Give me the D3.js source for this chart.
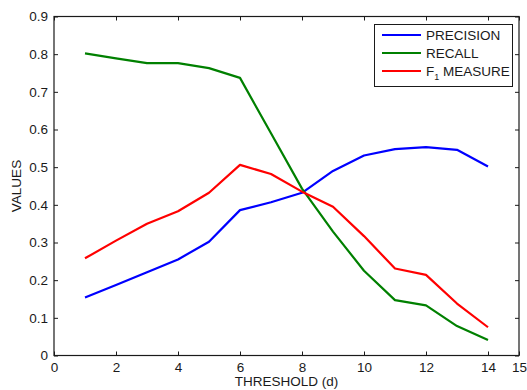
<!DOCTYPE html>
<html><head><meta charset="utf-8">
<script src="https://cdn.jsdelivr.net/npm/d3@7"></script>
<style>body{margin:0;background:#fff}svg{display:block}text{font-family:"Liberation Sans",Arial,sans-serif;fill:#1a1a1a}</style>
</head><body>
<script>
const thresholds = [1,2,3,4,5,6,7,8,9,10,11,12,13,14];
const precision = [0.154,0.187,0.221,0.255,0.302,0.386,0.407,0.432,0.490,0.531,0.548,0.553,0.546,0.502];
const recall    = [0.802,0.789,0.776,0.776,0.763,0.737,0.590,0.443,0.329,0.225,0.147,0.133,0.078,0.041];
const fmeasure  = [0.258,0.305,0.350,0.383,0.432,0.506,0.482,0.435,0.395,0.317,0.231,0.214,0.138,0.075];
const seriesNames = ["PRECISION","RECALL","F1 MEASURE"];
const seriesColors = ["#0000ff","#008000","#ff0000"];
const xTicks = [0,2,4,6,8,10,12,14,15];
const yTicks = [0,0.1,0.2,0.3,0.4,0.5,0.6,0.7,0.8,0.9];

const W=527,H=390;
const m={l:54,r:8,t:16.5,b:34.5};
const svg=d3.select("body").append("svg").attr("width",W).attr("height",H);
const x=d3.scaleLinear().domain([0,15]).range([m.l,W-m.r]);
const y=d3.scaleLinear().domain([0,0.9]).range([H-m.b,m.t]);
const fs=13.5;

svg.append("rect").attr("x",x(0)).attr("y",y(0.9)).attr("width",x(15)-x(0)).attr("height",y(0)-y(0.9))
  .attr("fill","none").attr("stroke","#1a1a1a").attr("stroke-width",1.2);

const tl=4;
const xAx=svg.append("g").attr("transform",`translate(0,${y(0)})`)
  .call(d3.axisBottom(x).tickValues(xTicks).tickSizeInner(-tl).tickSizeOuter(0).tickPadding(7).tickFormat(d3.format("d")));
const xAxT=svg.append("g").attr("transform",`translate(0,${y(0.9)})`)
  .call(d3.axisTop(x).tickValues(xTicks).tickSizeInner(-tl).tickSizeOuter(0).tickFormat(""));
const yAx=svg.append("g").attr("transform",`translate(${x(0)},0)`)
  .call(d3.axisLeft(y).tickValues(yTicks).tickSizeInner(-tl).tickSizeOuter(0).tickPadding(6).tickFormat(d=>d===0?"0":d3.format(".1f")(d)));
const yAxR=svg.append("g").attr("transform",`translate(${x(15)},0)`)
  .call(d3.axisRight(y).tickValues(yTicks).tickSizeInner(-tl).tickSizeOuter(0).tickFormat(""));
[xAx,xAxT,yAx,yAxR].forEach(g=>{
  g.select(".domain").remove();
  g.selectAll("line").attr("stroke","#1a1a1a");
  g.selectAll("text").attr("font-size",fs).attr("fill","#1a1a1a").style("font-family","'Liberation Sans',Arial,sans-serif");
});

const data=[precision,recall,fmeasure];
const line=d3.line().x((d,i)=>x(thresholds[i])).y(d=>y(d));
data.forEach((s,k)=>{
  svg.append("path").datum(s).attr("d",line).attr("fill","none")
    .attr("stroke",seriesColors[k]).attr("stroke-width",2.2).attr("stroke-linejoin","round");
});

svg.append("text").attr("x",(x(0)+x(15))/2).attr("y",386).attr("text-anchor","middle").attr("font-size",fs).text("THRESHOLD (d)");
svg.append("text").attr("transform",`translate(21,${(y(0)+y(0.9))/2}) rotate(-90)`).attr("text-anchor","middle").attr("font-size",fs).text("VALUES");

const lg=svg.append("g");
lg.append("rect").attr("x",374.5).attr("y",24.5).attr("width",138).attr("height",62).attr("fill","#fff").attr("stroke","#1a1a1a").attr("stroke-width",1);
seriesNames.forEach((n,k)=>{
  const yy=35+k*18;
  lg.append("line").attr("x1",382).attr("x2",421).attr("y1",yy).attr("y2",yy).attr("stroke",seriesColors[k]).attr("stroke-width",2.2);
  const t=lg.append("text").attr("x",426).attr("y",yy+5).attr("font-size",fs);
  if(n.startsWith("F1")){
    t.append("tspan").text("F");
    t.append("tspan").attr("font-size",9).attr("dy",4).text("1");
    t.append("tspan").attr("dy",-4).text(" MEASURE");
  } else t.text(n);
});
</script>
</body></html>
